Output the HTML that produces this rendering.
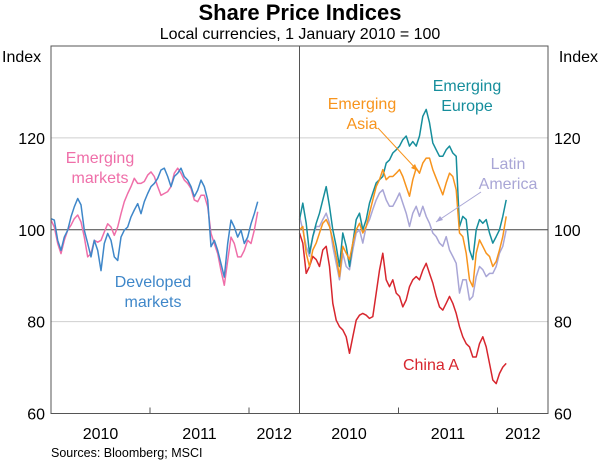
<!DOCTYPE html>
<html><head><meta charset="utf-8"><style>
body{margin:0;background:#fff}
svg{display:block;font-family:"Liberation Sans",Arial,sans-serif}
</style></head><body>
<svg id="chart" width="600" height="463" viewBox="0 0 600 463">
<text x="300" y="20" text-anchor="middle" font-size="22" font-weight="bold">Share Price Indices</text>
<text x="300" y="39" text-anchor="middle" font-size="16">Local currencies, 1 January 2010 = 100</text>
<text x="2" y="62" font-size="16">Index</text>
<text x="598" y="62" text-anchor="end" font-size="16">Index</text>
<g id="grid"></g>
<g id="series"></g>
<g id="frame"></g>
<g id="labels">
<text x="100" y="163" text-anchor="middle" font-size="16" fill="#ef6fa9"><tspan x="100">Emerging</tspan><tspan x="100" dy="20">markets</tspan></text>
<text x="153" y="287" text-anchor="middle" font-size="16" fill="#3f87c9"><tspan x="153">Developed</tspan><tspan x="153" dy="20">markets</tspan></text>
<text x="467" y="91" text-anchor="middle" font-size="16" fill="#168e9c"><tspan x="467">Emerging</tspan><tspan x="467" dy="20">Europe</tspan></text>
<text x="362" y="109" text-anchor="middle" font-size="16" fill="#f7941d"><tspan x="362">Emerging</tspan><tspan x="362" dy="20">Asia</tspan></text>
<text x="508" y="169" text-anchor="middle" font-size="16" fill="#a9a6d6"><tspan x="508">Latin</tspan><tspan x="508" dy="20">America</tspan></text>
<text x="431" y="370" text-anchor="middle" font-size="16" fill="#d7262e">China A</text>
<line x1="378" y1="128" x2="418" y2="171" stroke="#f7941d" stroke-width="1"/>
<polygon points="418,171 411,168 415,164" fill="#f7941d"/>
<line x1="481" y1="192" x2="436" y2="222" stroke="#a9a6d6" stroke-width="1"/>
<polygon points="436,222 440,216 443,220" fill="#a9a6d6"/>
</g>
<text x="51" y="457" font-size="12.5">Sources: Bloomberg; MSCI</text>
</svg>
<script>
const yTicks = [60, 80, 100, 120];
const yearLabels = ["2010", "2011", "2012"];
const startYear = 2010;
const stepYears = 0.03367;
const developed = [102.4,102.1,97.7,95.5,98.4,99.9,102.8,105.0,106.8,105.4,99.9,97.0,94.1,97.7,95.5,91.1,97.0,99.2,97.7,94.1,93.3,98.4,99.9,100.6,102.8,104.3,105.7,103.5,106.1,107.9,109.4,110.1,111.2,113.0,113.4,111.6,109.4,111.6,112.3,113.4,111.6,110.8,109.4,107.2,108.6,110.8,109.4,106.5,96.3,97.7,95.5,92.6,89.7,97.0,102.1,100.6,98.4,99.9,97.0,98.4,101.3,103.5,106.1];
const emergingMkts = [102.1,100.6,97.0,94.8,97.7,99.9,101.0,102.4,103.2,101.7,98.4,94.1,94.8,97.7,97.3,97.7,99.5,101.3,100.6,98.8,100.6,103.5,106.1,107.9,109.4,111.2,110.1,110.1,110.5,111.9,112.6,111.6,109.4,107.5,107.9,108.3,109.4,112.3,113.4,112.3,110.8,110.1,109.0,106.5,106.1,107.5,107.5,105.0,99.2,97.0,94.8,91.1,87.9,93.3,98.4,97.0,94.1,94.1,95.5,97.7,97.0,99.9,103.9];
const emEurope = [102.2,105.8,101.4,94.9,98.5,101.4,103.6,106.5,109.4,105.1,100.0,96.4,92.0,99.3,96.4,92.0,97.1,102.2,103.6,100.0,102.2,105.8,108.0,110.2,110.9,111.6,114.5,115.2,116.7,117.4,118.2,119.6,120.4,118.2,119.2,118.2,120.4,124.7,126.2,123.3,118.9,117.4,116.0,116.0,117.4,118.2,116.7,116.0,100.7,102.9,102.2,95.6,93.5,100.0,102.2,101.4,102.2,99.3,97.1,98.5,100.0,102.9,106.5];
const emAsia = [100.0,100.7,94.9,92.0,95.6,97.1,99.3,101.4,102.2,100.7,97.8,94.2,89.8,96.4,94.9,93.5,97.1,100.0,101.4,99.3,100.7,103.6,106.5,109.4,110.9,113.1,110.9,111.6,111.6,112.3,113.1,111.6,109.4,107.3,110.9,113.4,112.3,114.5,115.6,115.6,113.1,111.2,109.4,107.6,110.2,112.3,111.6,108.7,99.3,98.5,94.9,89.1,87.6,94.9,97.8,96.4,94.9,94.2,92.0,93.1,95.6,98.5,102.9];
const latAm = [102.9,100.0,96.4,94.2,98.5,100.7,100.7,102.2,103.6,101.4,96.4,92.7,89.1,94.9,92.0,91.3,95.6,99.3,100.0,97.1,100.7,102.2,104.4,106.5,108.0,108.7,106.5,105.1,105.1,106.5,108.0,105.8,103.6,100.7,103.6,105.1,102.9,105.1,102.9,101.4,99.3,98.5,97.1,96.4,98.5,95.6,94.2,92.7,86.2,89.1,89.1,84.7,85.5,89.8,92.0,91.3,89.8,90.5,90.5,92.0,94.9,96.4,100.0];
const chinaA = [99.3,97.1,90.5,92.0,94.2,93.5,92.0,95.6,96.4,92.0,84.0,80.3,78.9,78.2,76.7,73.1,76.7,80.3,81.4,81.8,81.4,80.7,81.1,86.2,91.2,94.9,89.1,87.6,89.1,86.2,85.5,83.2,84.7,87.6,89.1,89.8,89.1,91.2,92.7,90.5,88.4,85.5,83.2,82.5,84.0,85.5,84.0,81.8,78.9,76.7,75.2,74.5,72.3,72.3,75.2,76.7,74.5,70.9,67.3,66.5,68.7,70.1,70.9];

const NS = "http://www.w3.org/2000/svg";
const top_ = 46, bottom_ = 413.5, left0 = 51, mid = 299.5, right0 = 548;
const yearPx = 99;
function y(v){ return bottom_ - (v - 60) * (bottom_ - top_) / 80; }
function xL(t){ return left0 + (t - startYear) * yearPx; }
function xR(t){ return mid + (t - startYear) * yearPx; }
function mk(tag, attrs, parent){ const e = document.createElementNS(NS, tag); for (const k in attrs) e.setAttribute(k, attrs[k]); parent.appendChild(e); return e; }

const grid = document.getElementById('grid');
yTicks.forEach(v => {
  if (v === 60) return;
  const l = mk('line', {x1: left0, x2: right0, y1: y(v), y2: y(v), stroke: v === 100 ? '#444' : '#cfcfcf', 'stroke-width': 1}, grid);
  
  
});
const frame = document.getElementById('frame');
const fr = mk('rect', {x: left0, y: top_, width: right0 - left0, height: bottom_ - top_, fill: 'none', stroke: '#555', 'stroke-width': 1}, frame);


const dv = mk('line', {x1: mid, x2: mid, y1: top_, y2: bottom_, stroke: '#555', 'stroke-width': 1}, frame);


yTicks.forEach(v => {
  const a = mk('text', {x: 45, y: y(v) + 6, 'text-anchor': 'end', 'font-size': 16}, frame);
  a.textContent = v;
  
  
  const b = mk('text', {x: 554, y: y(v) + 6, 'font-size': 16}, frame);
  b.textContent = v;
  
  
});
[xL, xR].forEach((fx, pi) => {
  yearLabels.forEach((lab, i) => {
    const yr = +lab;
    if (i > 0) {
      const tk = mk('line', {x1: fx(yr), x2: fx(yr), y1: bottom_, y2: bottom_ - 6, stroke: '#555'}, frame);
      
      
    }
    const cx = i < 2 ? fx(yr + 0.5) : (fx(yr) + (pi === 0 ? mid : right0)) / 2;
    const t = mk('text', {x: cx, y: 439, 'text-anchor': 'middle', 'font-size': 16}, frame);
    t.textContent = lab;
    
    
  });
});
const series = document.getElementById('series');
function draw(vals, fx, color, name){
  const pts = vals.map((v, i) => fx(startYear + i * stepYears).toFixed(1) + ',' + y(v).toFixed(1)).join(' ');
  const p = mk('polyline', {points: pts, fill: 'none', stroke: color, 'stroke-width': 1.5, 'stroke-linejoin': 'round'}, series);
  
  
}
draw(emergingMkts, xL, '#ef6fa9', 'emerging-markets-line');
draw(developed, xL, '#3f87c9', 'developed-markets-line');
draw(chinaA, xR, '#d7262e', 'china-a-line');
draw(latAm, xR, '#a9a6d6', 'latin-america-line');
draw(emEurope, xR, '#168e9c', 'emerging-europe-line');
draw(emAsia, xR, '#f7941d', 'emerging-asia-line');
</script>
</body></html>
